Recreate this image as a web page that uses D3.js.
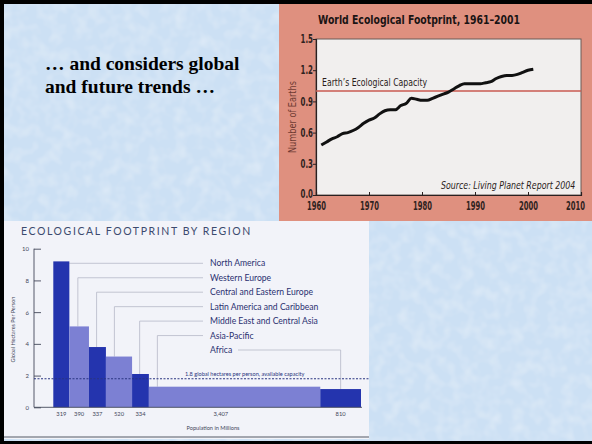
<!DOCTYPE html>
<html><head><meta charset="utf-8">
<script src="https://cdn.jsdelivr.net/npm/d3@7"></script>
<style>
html,body{margin:0;padding:0;background:#fff;}
svg{display:block;}
.nc{transform-box:fill-box;transform-origin:center;transform:scaleX(0.66);}
.nr{transform-box:fill-box;transform-origin:right center;transform:scaleX(0.68);}
.nl{transform-box:fill-box;transform-origin:left center;transform:scaleX(0.85);}
</style></head>
<body>
<svg id="c" width="592" height="444"></svg>
<script>
// ---------- DATA ----------
// World Ecological Footprint (Number of Earths)
const years = [1961,1962,1963,1964,1965,1966,1967,1968,1969,1970,1971,1972,1973,1974,1975,1976,1977,1978,1979,1980,1981,1982,1983,1984,1985,1986,1987,1988,1989,1990,1991,1992,1993,1994,1995,1996,1997,1998,1999,2000,2001];
const earths = [0.48,0.51,0.54,0.56,0.59,0.60,0.62,0.65,0.69,0.72,0.74,0.78,0.81,0.82,0.82,0.86,0.88,0.93,0.92,0.91,0.91,0.93,0.95,0.97,0.99,1.02,1.05,1.07,1.07,1.07,1.07,1.08,1.09,1.12,1.14,1.15,1.15,1.16,1.18,1.20,1.21];
const capacity = 1.0;
const yTicksTop = [0.0,0.3,0.6,0.9,1.2,1.5];
const xTicksTop = [1960,1970,1980,1990,2000,2010];

// Ecological footprint by region
const regions = ["North America","Western Europe","Central and Eastern Europe","Latin America and Caribbean","Middle East and Central Asia","Asia-Pacific","Africa"];
const population = [319,390,337,520,334,3407,810];
const popLabels = ["319","390","337","520","334","3,407","810"];
const hectares = [9.2,5.1,3.8,3.2,2.1,1.3,1.15];
const available = 1.8;
const yTicksBottom = [0,2,4,6,8,10];

// ---------- DRAW ----------
const svg = d3.select("#c");

// slide background
const defs = svg.append("defs");
const f = defs.append("filter").attr("id","tex").attr("x",0).attr("y",0).attr("width","100%").attr("height","100%");
f.append("feTurbulence").attr("type","fractalNoise").attr("baseFrequency",0.08).attr("numOctaves",2).attr("seed",3).attr("result","n");
f.append("feColorMatrix").attr("in","n").attr("type","matrix")
 .attr("values","0 0 0 0 1  0 0 0 0 1  0 0 0 0 1  0 0 0 0.9 -0.35").attr("result","w");
f.append("feComposite").attr("in","w").attr("in2","SourceGraphic").attr("operator","over");
svg.append("rect").attr("width",592).attr("height",444).attr("fill","#cce0f4");
svg.append("rect").attr("width",592).attr("height",444).attr("fill","#cce0f4").attr("filter","url(#tex)").attr("opacity",0.6);

// slide text
const tt = svg.append("text")
  .attr("font-family","Liberation Serif, Times New Roman, serif").attr("font-weight","bold")
  .attr("font-size",19.5).attr("fill","#000");
tt.append("tspan").attr("x",45).attr("y",69.5).text("… and considers global");
tt.append("tspan").attr("x",45).attr("y",92.5).text("and future trends …");

// ===== Top chart =====
svg.append("rect").attr("x",279).attr("y",0).attr("width",313).attr("height",221).attr("fill","#df907f");
const xT = d3.scaleLinear().domain([1960,2010]).range([316,581]);
const yT = d3.scaleLinear().domain([0,1.5]).range([195,39]);
const condensed = "DejaVu Sans Condensed, Liberation Sans Narrow, sans-serif";

svg.append("rect").attr("x",xT(1960)).attr("y",yT(1.5)).attr("width",xT(2010)-xT(1960)).attr("height",yT(0)-yT(1.5))
  .attr("fill","#f1efee").attr("stroke","#6b5a57").attr("stroke-width",1);

svg.append("text").attr("x",318).attr("y",24).attr("font-family",condensed).attr("font-weight","bold")
  .attr("font-size",12.8).attr("fill","#1a1414").attr("textLength",202).attr("lengthAdjust","spacingAndGlyphs")
  .text("World Ecological Footprint, 1961–2001");

const gxT = svg.append("g").attr("transform",`translate(0,${yT(0)})`)
  .call(d3.axisBottom(xT).tickValues(xTicksTop).tickFormat(d3.format("d")).tickSize(-3).tickPadding(6.5));
gxT.select(".domain").attr("stroke","#2a2020").attr("stroke-width",1.2);
gxT.selectAll(".tick line").attr("stroke","#2a2020");
gxT.selectAll("text").attr("font-family",condensed).attr("font-size",11.5).attr("font-weight","bold")
  .attr("fill","#2e2220").attr("class","nc");
gxT.selectAll(".tick").filter(d=>d===2010).select("text").attr("dx",-6);

const gyT = svg.append("g").attr("transform",`translate(${xT(1960)},0)`)
  .call(d3.axisLeft(yT).tickValues(yTicksTop).tickFormat(d3.format(".1f")).tickSize(3).tickPadding(0));
gyT.select(".domain").attr("stroke","#2a2020").attr("stroke-width",1.2);
gyT.selectAll(".tick line").attr("stroke","#2a2020");
gyT.selectAll("text").attr("font-family",condensed).attr("font-size",11.5).attr("font-weight","bold")
  .attr("fill","#2e2220").attr("class","nr");
gyT.selectAll(".tick").filter(d=>d===0).select("text").attr("dy","0.2em");

svg.append("text").attr("transform",`translate(296,${yT(0.75)}) rotate(-90)`).attr("text-anchor","middle")
  .attr("font-family",condensed).attr("font-size",11).attr("fill","#6e3a32")
  .attr("textLength",72).attr("lengthAdjust","spacingAndGlyphs").text("Number of Earths");

svg.append("line").attr("x1",xT(1960)).attr("x2",xT(2010)).attr("y1",yT(capacity)).attr("y2",yT(capacity))
  .attr("stroke","#c85a50").attr("stroke-width",1.3);
svg.append("text").attr("x",322).attr("y",yT(capacity)-5).attr("font-family",condensed).attr("font-size",11)
  .attr("fill","#2a1c1a").attr("textLength",105).attr("lengthAdjust","spacingAndGlyphs").text("Earth’s Ecological Capacity");

svg.append("path").datum(years.map((y,i)=>[y,earths[i]]))
  .attr("d",d3.line().x(d=>xT(d[0])).y(d=>yT(d[1])).curve(d3.curveMonotoneX))
  .attr("fill","none").attr("stroke","#111").attr("stroke-width",3).attr("stroke-linejoin","round");

svg.append("text").attr("x",441).attr("y",189).attr("font-family",condensed)
  .attr("font-style","italic").attr("font-size",10.3).attr("fill","#2a1c1a").attr("class","nl")
  .text("Source: Living Planet Report 2004");

// ===== Bottom chart =====
svg.append("rect").attr("x",4).attr("y",221).attr("width",365).attr("height",218).attr("fill","#f2f3f9");
svg.append("line").attr("x1",4).attr("x2",369).attr("y1",437).attr("y2",437).attr("stroke","#555a66").attr("stroke-width",1.2);

const geo = "Lato, Noto Sans, sans-serif";
svg.append("text").attr("x",21).attr("y",234.5).attr("font-family",geo).attr("font-size",10.5)
  .attr("letter-spacing",1.6).attr("fill","#3c4a6e").text("ECOLOGICAL FOOTPRINT BY REGION");

const total = d3.sum(population);
const cum = d3.cumsum(population);
const xB = d3.scaleLinear().domain([0,total]).range([53.3,361]);
const yB = d3.scaleLinear().domain([0,10]).range([407.3,248.7]);
const bars = regions.map((r,i)=>({name:r,x0:cum[i]-population[i],x1:cum[i],v:hectares[i],lab:popLabels[i],i}));
const dark = "#2434ae", light = "#7c80d3";

const gyB = svg.append("g").attr("transform",`translate(34,0)`)
  .call(d3.axisRight(yB).tickValues(yTicksBottom).tickSize(7).tickFormat(d3.format("d")));
gyB.select(".domain").remove();
gyB.selectAll(".tick line").attr("stroke","#44485a").attr("stroke-width",0.9);
gyB.selectAll("text").attr("x",-5).attr("text-anchor","end").attr("font-family",geo).attr("font-size",6).attr("fill","#44485a");
svg.append("line").attr("x1",34).attr("x2",34).attr("y1",yB(10)).attr("y2",yB(0)).attr("stroke","#44485a").attr("stroke-width",0.9);

svg.append("text").attr("transform",`translate(15,${yB(4.9)}) rotate(-90)`).attr("text-anchor","middle")
  .attr("font-family",geo).attr("font-size",5.5).attr("fill","#44485a").text("Global Hectares Per Person");

// leader lines & labels
const labX = 210, labY0 = 263.3, labStep = 14.45, lineEnd = 203;
const lead = svg.append("g").attr("stroke","#b6b9c8").attr("stroke-width",0.8).attr("fill","none");
bars.forEach(d=>{
  const ly = labY0 + d.i*labStep;
  const bx0 = xB(d.x0), bx1 = xB(d.x1), w = bx1-bx0;
  if (d.i===0) {
    lead.append("path").attr("d",`M${bx1},${ly}H${lineEnd}`);
  } else if (d.name==="Africa") {
    const lx = bx0 + w/2;
    lead.append("path").attr("d",`M${labX+28},${ly}H${lx}V${yB(d.v)}`);
  } else {
    const lx = bx0 + Math.min(w*0.45, 8.5);
    lead.append("path").attr("d",`M${lx},${yB(d.v)}V${ly}H${lineEnd}`);
  }
  svg.append("text").attr("x",labX).attr("y",ly+3).attr("font-family",geo).attr("font-size",8.6)
    .attr("fill","#2a3070").text(d.name);
});

svg.append("g").selectAll("rect").data(bars).join("rect")
  .attr("x",d=>xB(d.x0)).attr("width",d=>xB(d.x1)-xB(d.x0))
  .attr("y",d=>yB(d.v)).attr("height",d=>yB(0)-yB(d.v))
  .attr("fill",d=>d.i%2===0?dark:light);

svg.append("line").attr("x1",34).attr("x2",362).attr("y1",yB(0)).attr("y2",yB(0)).attr("stroke","#44485a").attr("stroke-width",0.9);

svg.append("line").attr("x1",34).attr("x2",369).attr("y1",yB(available)).attr("y2",yB(available))
  .attr("stroke","#2a3580").attr("stroke-width",1).attr("stroke-dasharray","2,1.5");
svg.append("text").attr("x",185).attr("y",yB(available)-2.5).attr("font-family",geo).attr("font-size",5.6)
  .attr("fill","#2a3580").text("1.8 global hectares per person, available capacity");

svg.append("g").selectAll("text").data(bars).join("text")
  .attr("x",d=>{const a=xB(d.x0),b=xB(d.x1); return d.name==="Asia-Pacific"? a+(b-a)*0.42 : (a+b)/2;})
  .attr("y",yB(0)+9).attr("text-anchor","middle").attr("font-family",geo).attr("font-size",5.8)
  .attr("fill","#44485a").text(d=>d.lab);

svg.append("text").attr("x",213).attr("y",430).attr("text-anchor","middle").attr("font-family",geo)
  .attr("font-size",5.6).attr("fill","#44485a").text("Population in Millions");

// slide frame
svg.append("rect").attr("x",0).attr("y",0).attr("width",592).attr("height",4).attr("fill","#000");
svg.append("rect").attr("x",0).attr("y",0).attr("width",4).attr("height",444).attr("fill","#000");
svg.append("rect").attr("x",0).attr("y",441).attr("width",592).attr("height",3).attr("fill","#000");
</script>
</body></html>
